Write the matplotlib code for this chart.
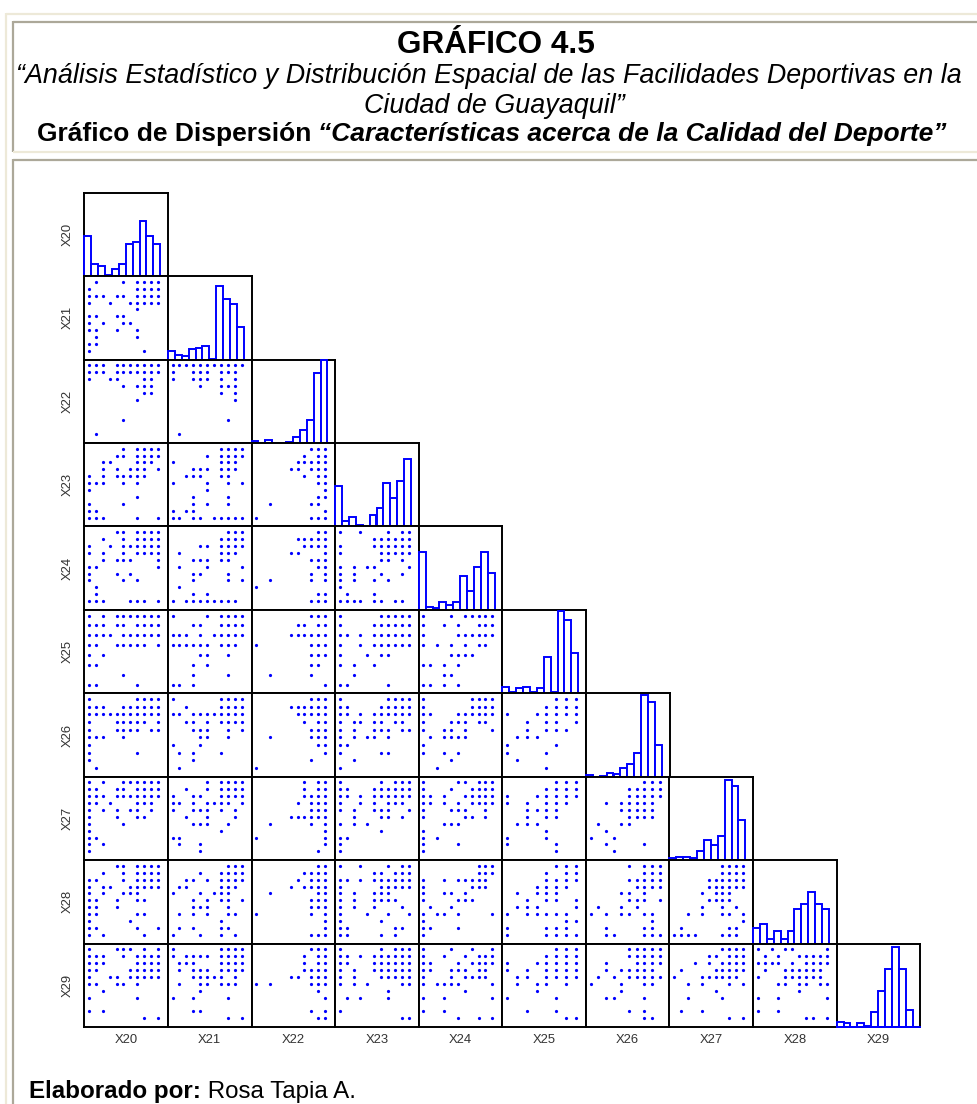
import matplotlib
matplotlib.use("Agg")
import matplotlib.pyplot as plt
from matplotlib.lines import Line2D

plt.rcParams['font.family'] = ['Liberation Sans', 'DejaVu Sans']

VARS = [20, 21, 22, 23, 24, 25, 26, 27, 28, 29]
# number of distinct answer levels of each variable
LEVELS = {20: 11, 21: 11, 22: 11, 23: 11, 24: 11, 25: 8, 26: 10, 27: 11, 28: 11, 29: 11}

# histogram bar heights, % of the panel height
H20 = [48, 14, 12, 1, 9, 14, 38, 41, 66, 48, 38]
H21 = [10, 6, 4, 13, 14, 16, 1, 88, 72, 66, 39]
H22 = [2.4, 0, 4, 0, 0, 1.2, 7.6, 15.6, 27.6, 84, 99]
H23 = [49, 6, 11, 2, 1, 14, 22, 52, 34, 54, 81]
H24 = [69, 4, 2, 9, 6, 9, 41, 22, 51, 69, 44]
H25 = [8, 1, 6, 8, 1, 6, 43, 1, 99, 88, 48]
H26 = [2, 0, 1, 5, 3, 10, 15, 28, 98, 90, 38]
H27 = [2.4, 4, 4, 2.4, 11, 24, 18, 29, 96, 89, 48]
H28 = [19, 24, 6, 15, 6, 15, 42, 48, 62, 48, 41]
H29 = [6.4, 4.8, 0.4, 4.8, 1.6, 18, 43, 70, 96, 70, 20]
HISTS = {20: H20, 21: H21, 22: H22, 23: H23, 24: H24, 25: H25, 26: H26, 27: H27, 28: H28, 29: H29}

# scatter panels: {row variable level: [column variable levels]}
P21_20 = {10: [1, 5, 7, 8, 9, 10], 9: [0, 7, 8, 9, 10], 8: [0, 1, 2, 4, 5, 7, 8, 9, 10], 7: [0, 3, 6, 7, 8, 9, 10],
          6: [7], 5: [0, 1, 4, 5], 4: [0, 2, 5, 6], 3: [0, 1, 4, 7], 2: [1, 7], 1: [0, 1], 0: [0, 8]}
P22_20 = {10: [0, 1, 2, 4, 5, 6, 7, 8, 9, 10], 9: [0, 1, 2, 4, 5, 6, 7, 8, 9, 10], 8: [0, 3, 4, 8, 9], 7: [5, 7, 8, 9],
          6: [8, 9], 5: [7], 2: [5], 0: [1]}
P22_21 = {10: [0, 1, 2, 3, 4, 5, 6, 7, 8, 9, 10], 9: [0, 3, 4, 5, 7, 8, 9], 8: [0, 3, 4, 5, 7, 9], 7: [4, 7, 8, 9],
          6: [7, 9], 5: [9], 2: [8], 0: [1]}
P23_20 = {10: [5, 7, 8, 9, 10], 9: [4, 5, 7, 8, 9, 10], 8: [2, 3, 7, 8, 9], 7: [2, 4, 6, 7, 8, 10], 6: [0, 2, 4, 5, 6, 7, 8],
          5: [0, 1, 2, 5, 7], 4: [0], 3: [7], 2: [0, 5], 1: [0, 1], 0: [0, 1, 2, 7, 10]}
P23_21 = {10: [7, 8, 9, 10], 9: [5, 7, 8, 9, 10], 8: [0, 7, 8, 9], 7: [3, 4, 5, 7, 8, 9], 6: [2, 3, 4, 7, 8], 5: [0, 5, 8, 10],
          4: [5], 3: [3, 8], 2: [3, 5, 8], 1: [0, 2, 3], 0: [0, 1, 3, 4, 6, 7, 8, 9, 10]}
P23_22 = {10: [8, 9, 10], 9: [7, 9, 10], 8: [6, 7, 8, 9, 10], 7: [5, 6, 8, 9, 10], 6: [7, 9, 10], 5: [9, 10], 4: [10], 3: [9, 10],
          2: [2, 8, 9], 1: [10], 0: [0, 8, 9, 10]}
P24_20 = {10: [4, 5, 7, 8, 9, 10], 9: [2, 5, 7, 8, 9, 10], 8: [0, 3, 5, 6, 7, 8, 9, 10], 7: [0, 2, 5, 7, 8, 9, 10], 6: [2, 4, 5, 6, 10],
          5: [0, 1, 10], 4: [0, 4, 6], 3: [0, 5, 7], 2: [1], 1: [1], 0: [0, 1, 2, 6, 7, 8, 10]}
P24_21 = {10: [8, 9, 10], 9: [7, 8, 9, 10], 8: [4, 5, 7, 8, 9, 10], 7: [1, 7, 8, 9], 6: [3, 4, 5, 7, 8], 5: [1, 5, 10], 4: [3, 4, 8],
          3: [3, 8, 10], 2: [1], 1: [3, 5], 0: [0, 2, 3, 4, 5, 6, 7, 8, 9]}
P24_22 = {10: [9, 10], 9: [6, 7, 8, 9, 10], 8: [7, 8, 9, 10], 7: [5, 6, 10], 6: [8, 9, 10], 5: [9, 10], 4: [8, 10], 3: [2, 8, 10],
          2: [0], 1: [9, 10], 0: [8, 9, 10]}
P24_23 = {10: [0, 3, 7, 9, 10], 9: [5, 6, 7, 8, 9, 10], 8: [0, 5, 6, 7, 8, 9, 10], 7: [0, 6, 7, 8, 9, 10], 6: [6, 7, 9], 5: [0, 2, 4, 5, 10],
          4: [0, 2, 6, 9], 3: [0, 2, 5, 7], 2: [0], 1: [1, 5], 0: [0, 1, 2, 3, 5, 6, 8, 9]}
P25_20 = {7: [0, 2, 4, 5, 6, 7, 8, 9, 10], 6: [0, 1, 2, 4, 5, 7, 8, 9, 10], 5: [0, 1, 2, 3, 5, 6, 7, 8, 9, 10], 4: [0, 1, 4, 5, 6, 7, 8, 10],
          3: [0, 2], 2: [0, 1], 1: [5], 0: [0, 1, 7]}
P25_21 = {7: [0, 5, 7, 8, 9, 10], 6: [3, 4, 7, 8, 9, 10], 5: [0, 1, 2, 4, 6, 7, 8, 9, 10], 4: [0, 1, 2, 3, 4, 5, 7, 8, 9],
          3: [4, 5, 8], 2: [3, 5], 1: [3, 8], 0: [0, 1, 3]}
P25_22 = {7: [8, 9, 10], 6: [6, 7, 9, 10], 5: [5, 6, 7, 8, 9, 10], 4: [0, 8, 9, 10], 3: [8, 9, 10], 2: [8, 9], 1: [2, 8], 0: [10]}
P25_23 = {7: [0, 6, 7, 8, 9, 10], 6: [0, 5, 6, 7, 8, 9, 10], 5: [0, 1, 3, 5, 6, 7, 8, 9, 10], 4: [0, 3, 5, 6, 7, 8, 9, 10],
          3: [0, 4, 6, 7], 2: [0, 2, 5], 1: [2], 0: [0, 1, 7]}
P25_24 = {7: [0, 4, 6, 7, 8, 9, 10], 6: [0, 3, 5, 8, 9, 10], 5: [0, 5, 6, 7, 8, 9, 10], 4: [0, 2, 4, 6, 8, 9], 3: [4, 5, 6, 7],
          2: [0, 1, 3, 5], 1: [3, 4], 0: [0, 1, 3, 5]}
P26_20 = {9: [0, 7, 8, 9, 10], 8: [0, 1, 2, 5, 6, 7, 8, 9, 10], 7: [0, 1, 2, 3, 4, 5, 6, 7, 8, 9, 10], 6: [0, 4, 5, 6, 7, 8, 10],
          5: [0, 4, 5, 6, 7, 9, 10], 4: [0, 1, 2, 5], 3: [0], 2: [0, 7], 1: [0], 0: [1]}
P26_21 = {9: [0, 7, 8, 9, 10], 8: [2, 7, 8, 9, 10], 7: [0, 1, 3, 4, 5, 6, 7, 8, 9, 10], 6: [2, 3, 5, 7, 8, 9, 10], 5: [3, 4, 5, 8, 10],
          4: [4, 5, 8], 3: [0, 4], 2: [1, 3, 7], 1: [3], 0: [1]}
P26_22 = {9: [8, 9, 10], 8: [5, 6, 7, 8, 9, 10], 7: [6, 7, 8, 9, 10], 6: [7, 9, 10], 5: [8, 9, 10], 4: [2, 8, 9, 10], 3: [9, 10],
          2: [10], 1: [8], 0: [0]}
P26_23 = {9: [0, 7, 8, 9, 10], 8: [0, 1, 6, 7, 8, 9, 10], 7: [0, 1, 3, 5, 6, 7, 8, 9, 10], 6: [0, 2, 3, 5, 6, 8, 9], 5: [0, 2, 5, 6, 7, 9, 10],
          4: [0, 2, 4, 5, 7], 3: [0, 1], 2: [0, 6, 7], 1: [2], 0: [0]}
P26_24 = {9: [0, 7, 8, 9, 10], 8: [0, 7, 8, 9, 10], 7: [0, 1, 5, 6, 7, 8, 9, 10], 6: [0, 4, 5, 6, 8, 9], 5: [0, 3, 4, 6, 10],
          4: [1, 3, 4, 5, 6], 3: [0], 2: [0, 3, 5], 1: [4], 0: [2]}
P26_25 = {9: [5, 6, 7], 8: [4, 5, 6, 7], 7: [0, 3, 4, 5, 6, 7], 6: [2, 4, 5, 7], 5: [2, 4, 5, 6], 4: [1, 2, 3], 3: [0, 5], 2: [0, 4], 1: [1], 0: [4]}
P27_20 = {10: [0, 2, 5, 6, 7, 8, 9, 10], 9: [0, 1, 4, 5, 7, 8, 9, 10], 8: [0, 1, 2, 4, 5, 6, 7, 8, 9, 10], 7: [0, 1, 3, 7, 8, 9],
          6: [0, 2, 4, 6, 7, 9], 5: [0, 4, 7, 8], 4: [0, 5], 3: [0], 2: [0, 1], 1: [0, 2], 0: [0]}
P27_21 = {10: [5, 7, 8, 9, 10], 9: [2, 5, 7, 8, 9, 10], 8: [0, 3, 4, 7, 8, 9, 10], 7: [0, 1, 3, 5, 6, 7, 8, 10], 6: [0, 3, 4, 5, 7, 9],
          5: [2, 5, 9], 4: [3, 4, 5, 8], 3: [7], 2: [0, 1], 1: [1, 4], 0: [4]}
P27_22 = {10: [7, 9, 10], 9: [7, 9, 10], 8: [7, 8, 9, 10], 7: [6, 8, 9, 10], 6: [8, 9, 10], 5: [5, 6, 7, 8, 9, 10], 4: [2, 8, 10],
          3: [10], 2: [0, 10], 1: [10], 0: [9]}
P27_23 = {10: [0, 6, 8, 9, 10], 9: [0, 1, 5, 6, 7, 8, 9, 10], 8: [0, 1, 3, 5, 6, 7, 8, 9, 10], 7: [0, 3, 5, 7, 8, 9], 6: [0, 2, 5, 6, 7, 10],
          5: [2, 6, 7, 9], 4: [0, 2, 4], 3: [6], 2: [0, 1], 1: [0], 0: [0]}
P27_24 = {10: [0, 5, 6, 8, 9, 10], 9: [0, 4, 7, 8, 9, 10], 8: [0, 1, 3, 6, 7, 8, 9, 10], 7: [0, 1, 3, 5, 7, 8, 9, 10], 6: [0, 4, 5, 6, 9],
          5: [0, 6, 7, 9], 4: [3, 4, 5], 3: [0], 2: [0, 2], 1: [0, 5], 0: [0]}
P27_25 = {10: [5, 6, 7], 9: [4, 5, 6, 7], 8: [0, 3, 4, 5, 6, 7], 7: [0, 2, 4, 5, 6], 6: [2, 3, 4, 5], 5: [2, 4, 5], 4: [1, 2, 3],
          3: [4], 2: [0, 4], 1: [0, 5], 0: [5]}
P27_26 = {10: [7, 8, 9], 9: [5, 6, 7, 8, 9], 8: [5, 6, 7, 8, 9], 7: [2, 4, 5, 6, 7, 8], 6: [4, 5, 6, 7, 8], 5: [5, 6, 7, 8], 4: [1, 4, 5],
          3: [2], 2: [0, 3], 1: [2, 7], 0: [3]}
P28_20 = {10: [4, 5, 7, 8, 9, 10], 9: [2, 5, 7, 8, 9, 10], 8: [0, 1, 5, 7, 8, 9, 10], 7: [0, 2, 3, 6, 7, 8, 9, 10], 6: [0, 2, 5, 6, 7],
          5: [0, 1, 4, 7, 8], 4: [0, 1, 4], 3: [0, 1, 7, 8], 2: [0, 6], 1: [0, 1, 7, 10], 0: [0, 2, 8]}
P28_21 = {10: [8, 9, 10], 9: [4, 7, 8, 9, 10], 8: [2, 3, 5, 7, 8, 9, 10], 7: [1, 2, 7, 8, 9], 6: [0, 4, 6, 7, 8], 5: [3, 5, 7, 8, 10],
          4: [3, 4, 5, 8], 3: [1, 3, 5, 8, 9], 2: [7], 1: [1, 3, 7, 8], 0: [0, 4, 7, 9]}
P28_22 = {10: [9, 10], 9: [7, 8, 9, 10], 8: [6, 8, 9, 10], 7: [5, 7, 8, 9, 10], 6: [2, 9, 10], 5: [8, 9, 10], 4: [8, 9, 10], 3: [0, 8, 10],
          2: [10], 1: [10], 0: [8, 9, 10]}
P28_23 = {10: [0, 3, 7, 9, 10], 9: [5, 6, 8, 9, 10], 8: [0, 1, 3, 5, 6, 7, 8, 9, 10], 7: [0, 6, 7, 8, 9, 10], 6: [0, 2, 5, 6, 7],
          5: [0, 2, 5, 6, 7, 8], 4: [0, 2, 5, 9], 3: [0, 4, 7, 10], 2: [0, 6], 1: [0, 1, 8, 9], 0: [0, 1, 6, 8]}
P28_24 = {10: [8, 9, 10], 9: [8, 9, 10], 8: [0, 3, 5, 6, 7, 8, 9], 7: [0, 7, 8, 9], 6: [0, 3, 4, 6], 5: [0, 5, 6, 7], 4: [1, 4],
          3: [0, 2, 3, 5, 10], 2: [0], 1: [0, 1, 5], 0: [0]}
P28_25 = {10: [5, 6, 7], 9: [4, 6, 7], 8: [4, 5, 6, 7], 7: [3, 4, 5, 6], 6: [1, 3, 4, 5], 5: [2, 4, 5, 7], 4: [1, 2, 3, 7],
          3: [0, 2, 3, 4, 5, 6], 2: [6, 7], 1: [0, 4, 5, 6], 0: [0, 4, 5, 6, 7]}
P28_26 = {10: [5, 7, 8, 9], 9: [7, 8, 9], 8: [5, 6, 7, 8, 9], 7: [6, 7, 8, 9], 6: [4, 5, 7], 5: [5, 6, 7, 9], 4: [1, 4, 6],
          3: [0, 2, 4, 5, 7, 8], 2: [8], 1: [2, 7, 8], 0: [2, 3, 7, 8, 9]}
P28_27 = {10: [7, 8, 9, 10], 9: [7, 8, 9, 10], 8: [5, 6, 7, 8, 9, 10], 7: [5, 6, 7, 8, 9, 10], 6: [4, 6, 7, 8], 5: [5, 6, 7, 8], 4: [4, 7, 9],
          3: [2, 4, 7, 8, 10], 2: [10], 1: [1, 8, 9], 0: [0, 1, 2, 3, 7, 8, 9]}
P29_20 = {10: [0, 4, 5, 6, 8, 10], 9: [0, 1, 2, 5, 7, 8, 9, 10], 8: [0, 1, 2, 7, 8, 9, 10], 7: [0, 1, 6, 7, 8, 9, 10],
          6: [0, 3, 4, 6, 7, 8, 9, 10], 5: [0, 1, 4, 5, 7], 4: [2], 3: [0, 7], 1: [0, 2], 0: [8, 10]}
P29_21 = {10: [0, 7, 8, 9, 10], 9: [0, 2, 3, 4, 5, 7, 8, 9, 10], 8: [1, 2, 3, 7, 8, 9, 10], 7: [1, 3, 4, 5, 7, 8, 9, 10], 6: [3, 4, 5, 6, 7, 9],
          5: [1, 4, 5, 7, 8, 9], 4: [4], 3: [0, 3, 8], 1: [3, 4], 0: [8, 10]}
P29_22 = {10: [8, 9, 10], 9: [7, 9, 10], 8: [7, 9, 10], 7: [7, 8, 9, 10], 6: [5, 6, 8, 9, 10], 5: [0, 2, 8, 9, 10], 4: [9], 3: [10],
          1: [8, 10], 0: [9, 10]}
P29_23 = {10: [0, 6, 8, 9, 10], 9: [0, 1, 3, 5, 6, 7, 8, 9, 10], 8: [0, 1, 5, 6, 7, 8, 9, 10], 7: [0, 2, 5, 6, 7, 8, 9, 10],
          6: [0, 2, 6, 7, 8, 9, 10], 5: [0, 2, 4, 9, 10], 4: [7], 3: [1, 3, 7], 1: [0], 0: [9, 10]}
P29_24 = {10: [0, 4, 7, 10], 9: [0, 3, 6, 8, 9, 10], 8: [0, 1, 5, 7, 8, 9, 10], 7: [0, 1, 4, 5, 6, 8, 9], 6: [0, 4, 6, 7, 8, 9],
          5: [0, 2, 3, 4, 5, 10], 4: [6], 3: [0, 3, 10], 1: [0, 3], 0: [5, 8, 10]}
P29_25 = {10: [5, 6, 7], 9: [4, 5, 6, 7], 8: [0, 3, 4, 5, 6, 7], 7: [0, 2, 4, 5, 6, 7], 6: [1, 2, 4, 5, 6, 7], 5: [1, 3, 4, 6], 4: [3],
          3: [0, 5], 1: [2, 5], 0: [6, 7]}
P29_26 = {10: [5, 6, 7, 8, 9], 9: [5, 6, 7, 8, 9], 8: [2, 6, 7, 8, 9], 7: [2, 4, 5, 6, 7, 8], 6: [1, 3, 5, 6, 7, 8, 9], 5: [0, 4, 7, 8],
          4: [4], 3: [2, 3, 7], 1: [5, 7], 0: [7, 8]}
P29_27 = {10: [7, 8, 9, 10], 9: [5, 6, 8, 9, 10], 8: [3, 5, 7, 8, 9, 10], 7: [1, 6, 7, 8, 9, 10], 6: [0, 4, 5, 6, 7, 8, 9], 5: [2, 4, 8, 10],
          4: [6], 3: [2, 7], 1: [1, 4], 0: [8, 10]}
P29_28 = {10: [0, 2, 4, 5, 10], 9: [1, 3, 6, 7, 8, 9, 10], 8: [0, 1, 2, 3, 5, 7, 8, 9, 10], 7: [1, 4, 5, 6, 7, 8, 9], 6: [0, 4, 5, 6, 7, 8, 9],
          5: [3, 4, 6, 7, 9, 10], 4: [6], 3: [0, 3, 10], 1: [0, 3], 0: [7, 8, 10]}

TITLE_1 = "GRÁFICO 4.5"
TITLE_2 = "“Análisis Estadístico y Distribución Espacial de las Facilidades Deportivas en la"
TITLE_3 = "Ciudad de Guayaquil”"
TITLE_4A = "Gráfico de Dispersión"
TITLE_4B = "“Características acerca de la Calidad del Deporte”"
FOOT_A = "Elaborado por:"
FOOT_B = " Rosa Tapia A."

W, H = 977, 1104
BLUE = '#0000FF'
CREAM = '#EDE9D8'
GRAY = '#ACA899'
LABEL = '#333333'

fig = plt.figure(figsize=(W / 100, H / 100), dpi=100, facecolor='white')


def fx(px):
    return px / W


def fy(py):
    return 1 - py / H


def rule(x0, y0, x1, y1, color):
    fig.add_artist(Line2D([fx(x0), fx(x1)], [fy(y0), fy(y1)], color=color, lw=1.6,
                          solid_capstyle='butt', transform=fig.transFigure))


# page table borders
rule(6, 14, W, 14, CREAM)
rule(6, 13, 6, H, CREAM)
rule(13, 22, W, 22, GRAY)
rule(13, 21, 13, 152, GRAY)
rule(13, 152, W, 152, CREAM)
rule(13, 160, W, 160, GRAY)
rule(13, 159, 13, H, GRAY)

# titles
fig.text(fx(496), fy(53), TITLE_1, fontsize=22.7, fontweight='bold', ha='center', va='baseline', color='black')
fig.text(fx(489), fy(83), TITLE_2, fontsize=19.35, fontstyle='italic', ha='center', va='baseline', color='black')
fig.text(fx(494), fy(113), TITLE_3, fontsize=19.35, fontstyle='italic', ha='center', va='baseline', color='black')
t4 = fig.text(fx(37), fy(141), TITLE_4A, fontsize=19, fontweight='bold', ha='left', va='baseline', color='black')
fig.canvas.draw()
bb = t4.get_window_extent()
fig.text(bb.x1 / W + fx(7), fy(141), TITLE_4B, fontsize=19, fontweight='bold', fontstyle='italic',
         ha='left', va='baseline', color='black')
f1 = fig.text(fx(29), fy(1098), FOOT_A, fontsize=17.4, fontweight='bold', ha='left', va='baseline', color='black')
fig.canvas.draw()
bb = f1.get_window_extent()
fig.text(bb.x1 / W, fy(1098), FOOT_B, fontsize=17.4, ha='left', va='baseline', color='black')

# matrix geometry, pixels
LEFT, TOP, PW, PH = 84.3, 192.7, 83.6, 83.43
STEP = 6.9
XMIN = -4.67 / STEP
XMAX = XMIN + PW / STEP
YMIN = -8.75 / STEP
YMAX = YMIN + PH / STEP
n = len(VARS)
LW = 1.4


def scaled(var, level):
    return level * 10 / (LEVELS[var] - 1)


for r, yv in enumerate(VARS):
    for c, xv in enumerate(VARS[:r + 1]):
        l = LEFT + c * PW
        t = TOP + r * PH
        ax = fig.add_axes([fx(l), fy(t + PH), PW / W, PH / H])
        ax.set_facecolor('white')
        ax.set_xlim(XMIN, XMAX)
        ax.set_xticks([])
        ax.set_yticks([])
        for s in ax.spines.values():
            s.set_linewidth(LW)
            s.set_color('black')
            s.set_zorder(1)
        if r == c:
            h = HISTS[yv]
            ax.set_ylim(0, 100)
            ax.bar([XMIN + k for k in range(len(h))], h, width=1, align='edge', facecolor='white',
                   edgecolor=BLUE, linewidth=LW, clip_on=False, zorder=3)
            if yv == VARS[-1]:
                ax.plot([XMIN, XMAX], [0, 0], color=BLUE, lw=LW, clip_on=False, zorder=3)
        else:
            ax.set_ylim(YMIN, YMAX)
            panel = globals()[f"P{yv}_{xv}"]
            xs, ys = [], []
            for lev, cols in panel.items():
                for k in cols:
                    xs.append(scaled(xv, k))
                    ys.append(scaled(yv, lev))
            ax.plot(xs, ys, ls='', marker='o', ms=2.3, mew=0, color=BLUE, zorder=2)
        if c == 0:
            fig.text(fx(68), fy(t + PH / 2), f"X{yv}", rotation=90, fontsize=9.4, color=LABEL,
                     ha='center', va='center')
        if r == n - 1:
            fig.text(fx(l + PW / 2), fy(1040), f"X{xv}", fontsize=9.4, color=LABEL, ha='center', va='center')

fig.savefig("out.png", dpi=100, facecolor='white')
